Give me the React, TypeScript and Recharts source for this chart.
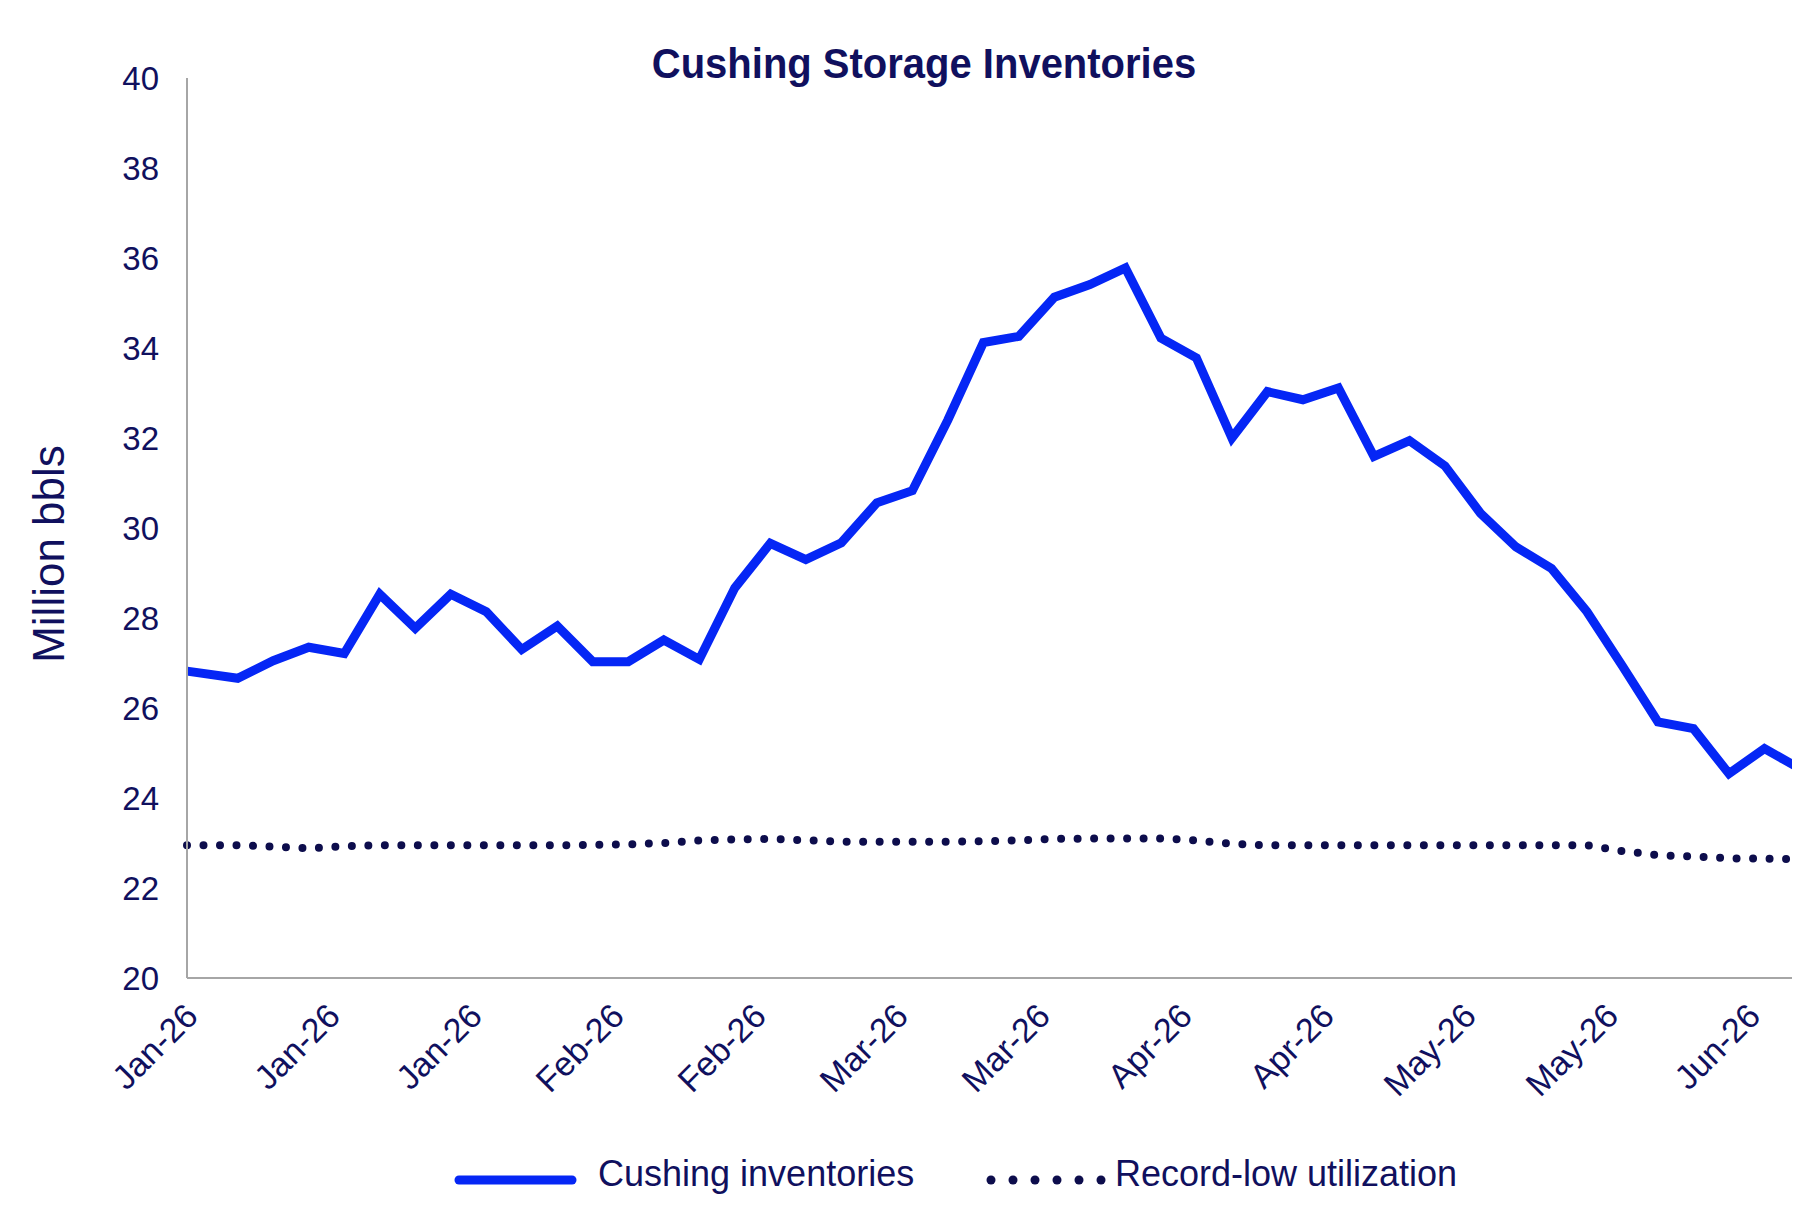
import React from "react";
import { LineChart, Line, XAxis, YAxis } from "recharts";

// days since the first observation (weekly data)
const days = [
  0, 10, 17, 24, 31, 38, 45, 52, 59, 66, 73, 80, 87, 94, 101, 108, 115, 122,
  129, 136, 143, 150, 157, 164, 171, 178, 185, 192, 199, 206, 213, 220, 227,
  234, 241, 248, 255, 262, 269, 276, 283, 290, 297, 304, 311, 318,
];

const cushing = [
  26.82, 26.66, 27.05, 27.35, 27.21, 28.53, 27.77, 28.53, 28.14, 27.3, 27.82,
  27.03, 27.03, 27.51, 27.08, 28.67, 29.66, 29.3, 29.67, 30.56, 30.83, 32.4,
  34.12, 34.26, 35.13, 35.41, 35.78, 34.22, 33.78, 32.0, 33.03, 32.85, 33.11,
  31.59, 31.94, 31.38, 30.33, 29.58, 29.1, 28.14, 26.93, 25.69, 25.54, 24.54,
  25.1, 24.65,
];

const recordLow = [
  22.95, 22.95, 22.92, 22.88, 22.93, 22.95, 22.95, 22.95, 22.95, 22.95, 22.95,
  22.96, 22.97, 23.0, 23.06, 23.08, 23.09, 23.06, 23.03, 23.03, 23.03, 23.03,
  23.04, 23.06, 23.09, 23.1, 23.1, 23.1, 23.06, 22.98, 22.95, 22.95, 22.95,
  22.95, 22.95, 22.95, 22.95, 22.95, 22.95, 22.95, 22.82, 22.73, 22.7, 22.66,
  22.65, 22.64,
];

const tickDays = [0, 28, 56, 84, 112, 140, 168, 196, 224, 252, 280, 308];
const tickLabels = [
  "Jan-26", "Jan-26", "Jan-26", "Feb-26", "Feb-26", "Mar-26",
  "Mar-26", "Apr-26", "Apr-26", "May-26", "May-26", "Jun-26",
];
const yTicks = [20, 22, 24, 26, 28, 30, 32, 34, 36, 38, 40];

const rows = days.map((d, i) => ({
  day: d,
  cushing: cushing[i],
  low: recordLow[i],
}));

const NAVY = "#10105e";
const BLUE = "#0526f5";
const DOTS = "#0d0d4c";
const FONT = "'Liberation Sans', Arial, sans-serif";

const XTick = (props: any) => {
  const { x, y, payload } = props;
  const idx = tickDays.indexOf(payload.value);
  return (
    <g transform={`translate(${x},${y})`}>
      <text
        x={13}
        y={40}
        transform="rotate(-45 13 40)"
        textAnchor="end"
        fill={NAVY}
        fontSize={34}
        fontFamily={FONT}
      >
        {tickLabels[idx]}
      </text>
    </g>
  );
};

const App = () => {
  return (
    <div
      style={{
        margin: -8,
        position: "relative",
        width: 1800,
        height: 1207,
        overflow: "hidden",
        background: "#fff",
        fontFamily: FONT,
      }}
    >
      <div
        style={{
          position: "absolute",
          left: 924,
          top: 42,
          fontSize: 43,
          lineHeight: "43px",
          fontWeight: "bold",
          color: NAVY,
          whiteSpace: "nowrap",
          transform: "translateX(-50%) scaleX(0.93)",
        }}
      >
        Cushing Storage Inventories
      </div>

      <LineChart
        width={1800}
        height={1207}
        data={rows}
        margin={{ top: 78, right: 0, left: 0, bottom: 0 }}
      >
        <XAxis
          dataKey="day"
          type="number"
          domain={[0, 318]}
          ticks={tickDays}
          interval={0}
          tick={<XTick />}
          tickLine={false}
          tickSize={0}
          tickMargin={0}
          height={229}
          axisLine={{ stroke: "#a6a6a6", strokeWidth: 2 }}
        />
        <YAxis
          domain={[20, 40]}
          ticks={yTicks}
          interval={0}
          width={187}
          tickLine={false}
          tickSize={0}
          tickMargin={28}
          axisLine={{ stroke: "#a6a6a6", strokeWidth: 2 }}
          tick={{ fill: NAVY, fontSize: 33, fontFamily: FONT }}
          label={() => (
            <text
              x={48}
              y={554}
              transform="rotate(-90 48 554)"
              textAnchor="middle"
              dominantBaseline="central"
              fill={NAVY}
              fontSize={44}
              fontFamily={FONT}
            >
              Million bbls
            </text>
          )}
        />
        <Line
          dataKey="low"
          stroke={DOTS}
          strokeWidth={8}
          strokeDasharray="0 16.5"
          strokeLinecap="round"
          dot={false}
          isAnimationActive={false}
        />
        <Line
          dataKey="cushing"
          stroke={BLUE}
          strokeWidth={9}
          dot={false}
          isAnimationActive={false}
        />
      </LineChart>

      {/* legend */}
      <svg
        style={{ position: "absolute", left: 450, top: 1170 }}
        width={660}
        height={20}
      >
        <line
          x1={9}
          y1={10}
          x2={122}
          y2={10}
          stroke={BLUE}
          strokeWidth={9}
          strokeLinecap="round"
        />
        {[0, 1, 2, 3, 4, 5].map((i) => (
          <circle key={i} cx={541 + i * 22} cy={10} r={4.5} fill={DOTS} />
        ))}
      </svg>
      <div
        style={{
          position: "absolute",
          left: 598,
          top: 1156,
          fontSize: 36,
          lineHeight: "36px",
          color: NAVY,
          whiteSpace: "nowrap",
        }}
      >
        Cushing inventories
      </div>
      <div
        style={{
          position: "absolute",
          left: 1115,
          top: 1156,
          fontSize: 36,
          lineHeight: "36px",
          color: NAVY,
          whiteSpace: "nowrap",
        }}
      >
        Record-low utilization
      </div>
    </div>
  );
};

export default App;
